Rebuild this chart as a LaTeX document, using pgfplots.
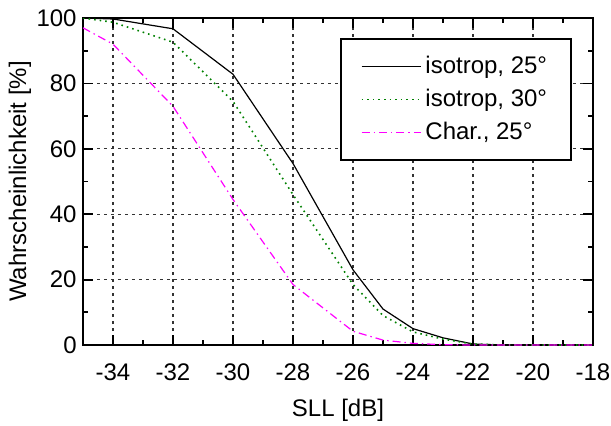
\documentclass[border=0pt]{standalone}
\usepackage{fontspec}
\setmainfont{Liberation Sans}
\usepackage{pgfplots}
\pgfplotsset{compat=1.18}
\definecolor{mag}{RGB}{255,0,255}
\definecolor{dgreen}{RGB}{0,128,0}

\begin{document}
\fontsize{12}{14.4}\selectfont
\begin{tikzpicture}
\begin{axis}[
  scale only axis, width=255pt, height=163.5pt,
  xmin=-35, xmax=-18, ymin=0, ymax=100,
  xtick={-34,-32,...,-18}, ytick={0,20,...,100},
  minor xtick={-35,-33,...,-19}, minor ytick={10,30,...,90},
  tick align=inside, tick pos=both,
  major tick length=5pt, minor tick length=2.5pt,
  every tick/.style={black, line width=0.9pt},
  axis line style={line width=1pt},
  xmajorgrids, ymajorgrids,
  major grid style={black!80, dash pattern=on 1.5pt off 2pt, line width=0.6pt},
  xlabel={SLL [dB]}, ylabel={Wahrscheinlichkeit [\%]},
  every axis x label/.style={at={(axis description cs:0.5,-0.1988)}, anchor=center},
  every axis y label/.style={at={(axis description cs:-0.1235,0.5)}, anchor=center, rotate=90},
  /pgf/number format/assume math mode=true,
  x tick label style={yshift=-5pt},
  y tick label style={xshift=1pt},
  legend style={at={(0.959,0.939)}, anchor=north east, draw=black, line width=1pt,
    inner xsep=10pt, inner ysep=6.5pt, row sep=2pt, font=\fontsize{12}{14.4}\selectfont},
  legend cell align=left,
  legend image code/.code={\draw[#1] (0pt,0pt) -- (29.5pt,0pt);},
]
\addplot[black, line width=0.6pt] coordinates {
(-35,100) (-34,99.7) (-32,96.7) (-30,82.8) (-28,55.5) (-26,23) (-25,11) (-24,5)
(-23,2.2) (-22,0.3) (-21,0) (-20,0) (-19,0) (-18,0)};
\addlegendentry{isotrop, 25°}
\addplot[dgreen, dotted, line width=0.8pt] coordinates {
(-35,100) (-34,98.7) (-32,92.6) (-30,74.5) (-28,46) (-26,18.5) (-25,9) (-24,4)
(-23,1.8) (-22,0.3) (-21,0) (-20,0) (-19,0) (-18,0)};
\addlegendentry{isotrop, 30°}
\addplot[mag, dash pattern=on 4pt off 2pt on 0.7pt off 2pt, line width=0.6pt] coordinates {
(-35,97) (-34,92) (-32,73) (-30,44.5) (-28,18.5) (-26,4.2) (-25,1.5) (-24,0.5)
(-23,0.1) (-22,0) (-21,0) (-20,0) (-19,0) (-18,0)};
\addlegendentry{Char., 25°}
\end{axis}
\pgfresetboundingbox
\useasboundingbox ([shift={(-41.5pt,-40pt)}]current axis.south west) rectangle ([shift={(9pt,9pt)}]current axis.north east);
\end{tikzpicture}
\end{document}
